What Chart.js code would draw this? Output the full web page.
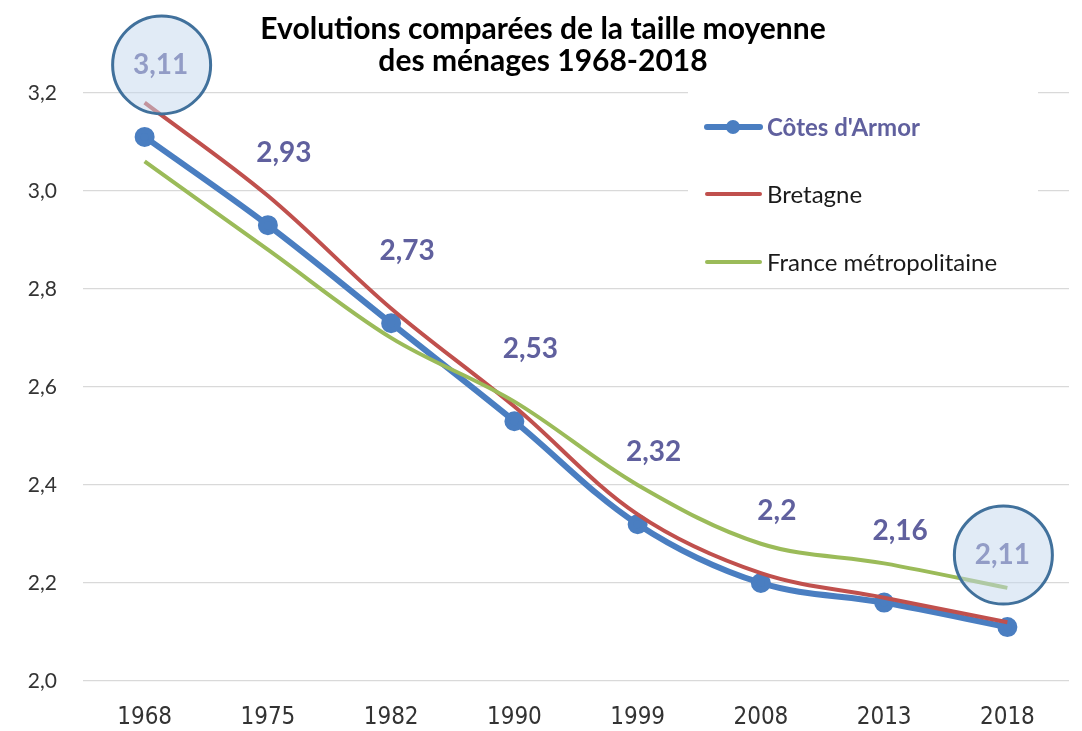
<!DOCTYPE html>
<html>
<head>
<meta charset="utf-8">
<script src="https://cdn.jsdelivr.net/npm/chart.js@4/dist/chart.umd.min.js"></script>
<style>
  html, body { margin: 0; padding: 0; background: #fff; }
  #wrap { width: 1082px; height: 731px; }
</style>
</head>
<body>
<div id="wrap"><canvas id="chart"></canvas></div>
<script>
// categories and series (taille moyenne des ménages)
const years = ["1968", "1975", "1982", "1990", "1999", "2008", "2013", "2018"];
const cotesArmor = [3.11, 2.93, 2.73, 2.53, 2.32, 2.2, 2.16, 2.11];
const bretagne = [3.18, 2.99, 2.76, 2.56, 2.34, 2.22, 2.17, 2.12];
const franceMetro = [3.06, 2.88, 2.70, 2.57, 2.40, 2.28, 2.24, 2.19];
const yTicks = [2.0, 2.2, 2.4, 2.6, 2.8, 3.0, 3.2];
const highlighted = [0, 7]; // labels circled in the original

const labelColor = "#60609e";
const fontFamily = "Lato, 'Open Sans', sans-serif";
const fmt = (v) => String(v).replace(".", ",");

// data labels + circles over the Côtes d'Armor series
const labelPlugin = {
  id: "valueLabels",
  afterDatasetsDraw(chart) {
    const ctx = chart.ctx;
    const meta = chart.getDatasetMeta(0);
    const last = meta.data.length - 1;
    ctx.save();
    ctx.font = "bold 28px " + fontFamily;
    ctx.textAlign = "center";
    ctx.textBaseline = "middle";
    const spots = [];
    meta.data.forEach((pt, i) => {
      const x = pt.x + (i === last ? -5 : 16);
      const y = pt.y - 72;
      ctx.fillStyle = labelColor;
      ctx.fillText(fmt(cotesArmor[i]), x, y);
      if (highlighted.includes(i)) spots.push({ x: x + 1, y: y });
    });
    spots.forEach((s) => {
      ctx.beginPath();
      ctx.arc(s.x, s.y, 49, 0, Math.PI * 2);
      ctx.fillStyle = "rgba(196, 216, 238, 0.5)";
      ctx.fill();
      ctx.lineWidth = 3;
      ctx.strokeStyle = "#41719c";
      ctx.stroke();
    });
    ctx.restore();
  },
};

// legend drawn inside the plot, on the right
const insideLegend = {
  id: "insideLegend",
  afterDatasetsDraw(chart) {
    const ctx = chart.ctx;
    const x0 = 707;
    const rows = [127, 194, 262];
    ctx.save();
    ctx.fillStyle = "#fff";
    ctx.fillRect(688, 86, 350, 196);
    chart.data.datasets.forEach((ds, i) => {
      const y = rows[i];
      ctx.beginPath();
      ctx.moveTo(x0, y);
      ctx.lineTo(x0 + 53, y);
      ctx.lineWidth = i === 0 ? 6 : 4;
      ctx.lineCap = "round";
      ctx.strokeStyle = ds.borderColor;
      ctx.stroke();
      if (i === 0) {
        ctx.beginPath();
        ctx.arc(x0 + 26, y, 7, 0, Math.PI * 2);
        ctx.fillStyle = ds.borderColor;
        ctx.fill();
      }
      ctx.font = (i === 0 ? "bold " : "") + "24px " + fontFamily;
      ctx.fillStyle = i === 0 ? labelColor : "#1a1a1a";
      ctx.textAlign = "left";
      ctx.textBaseline = "middle";
      ctx.fillText(ds.label, x0 + 60, y + 1);
    });
    ctx.restore();
  },
};

new Chart(document.getElementById("chart"), {
  type: "line",
  data: {
    labels: years,
    datasets: [
      {
        label: "Côtes d'Armor",
        data: cotesArmor,
        borderColor: "#4a7ec1",
        backgroundColor: "#4a7ec1",
        borderWidth: 6,
        pointRadius: 7,
        pointHoverRadius: 7,
        tension: 0.35,
        order: 3,
      },
      {
        label: "Bretagne",
        data: bretagne,
        borderColor: "#c0504d",
        borderWidth: 4,
        pointRadius: 0,
        tension: 0.35,
        order: 2,
      },
      {
        label: "France métropolitaine",
        data: franceMetro,
        borderColor: "#9bbb59",
        borderWidth: 4,
        pointRadius: 0,
        tension: 0.35,
        order: 1,
      },
    ],
  },
  options: {
    responsive: true,
    maintainAspectRatio: false,
    animation: false,
    layout: { padding: { left: 0, right: -4, top: 13, bottom: 0 } },
    plugins: {
      legend: { display: false },
      tooltip: { enabled: false },
      title: {
        display: true,
        text: ["Evolutions comparées de la taille moyenne", "des ménages 1968-2018"],
        color: "#000",
        font: { family: fontFamily, size: 30, weight: "bold", lineHeight: 1.08 },
        padding: { top: 0, bottom: 15 },
      },
    },
    scales: {
      x: {
        offset: true,
        grid: { display: false },
        border: { display: false },
        afterFit: (axis) => { axis.height = 50; },
        ticks: {
          color: "#333",
          font: { family: "'Liberation Sans Narrow', 'DejaVu Sans Condensed', sans-serif", size: 24 },
          padding: 14,
        },
      },
      y: {
        min: 2.0,
        max: 3.2,
        afterBuildTicks: (axis) => {
          axis.ticks = yTicks.map((v) => ({ value: v }));
        },
        afterFit: (axis) => { axis.width = 83; },
        grid: { color: "#d9d9d9", lineWidth: 1.3, drawTicks: false },
        border: { display: false },
        ticks: {
          color: "#333",
          font: { family: fontFamily, size: 21 },
          padding: 26,
          callback: (v) => v.toFixed(1).replace(".", ","),
        },
      },
    },
  },
  plugins: [insideLegend, labelPlugin],
});
</script>
</body>
</html>
